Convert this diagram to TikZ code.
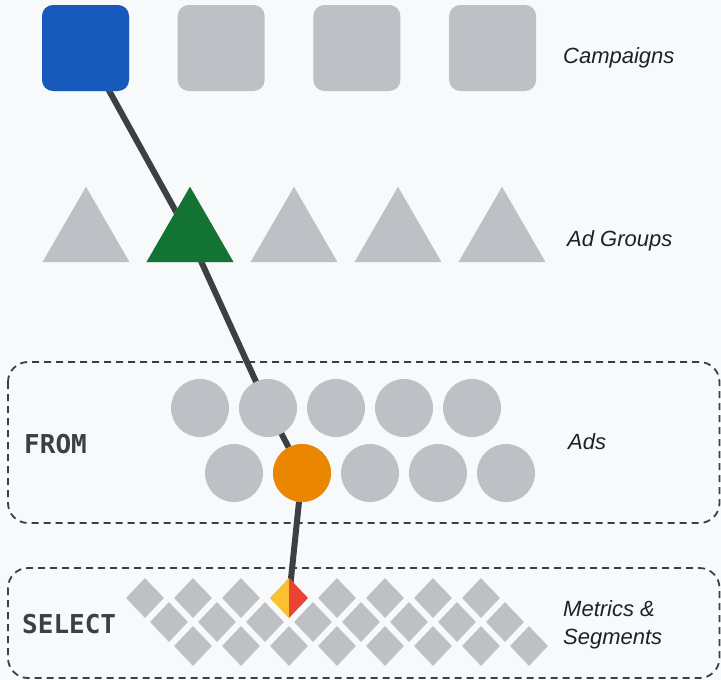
\documentclass[tikz,border=0pt]{standalone}
\usepackage{fontspec}
\usetikzlibrary{shapes.geometric,backgrounds}
\newfontfamily\labelfont{Liberation Sans}
\newfontfamily\codefont{DejaVu Sans Mono}

\definecolor{pagebg}{HTML}{F8F9FA}
\definecolor{idle}{HTML}{BDC1C6}
\definecolor{linkgray}{HTML}{3C4043}
\definecolor{labelink}{HTML}{202124}
\definecolor{gblue}{HTML}{185ABC}
\definecolor{ggreen}{HTML}{137333}
\definecolor{gorange}{HTML}{EA8600}
\definecolor{gyellow}{HTML}{FBC02D}
\definecolor{gred}{HTML}{EA4335}

\begin{document}
\begin{tikzpicture}[x=1pt, y=-1pt,
    campbox/.style={rectangle, rounded corners=11pt, minimum width=87pt, minimum height=86pt, inner sep=0pt, fill=idle},
    groupshape/.style={regular polygon, regular polygon sides=3, minimum size=100.5pt, inner sep=0pt, fill=idle},
    adshape/.style={circle, minimum size=58pt, inner sep=0pt, fill=idle},
    metricshape/.style={diamond, minimum width=38pt, minimum height=40pt, inner sep=0pt, fill=idle},
    splitdiamond/.style={metricshape, fill=none, path picture={
        \fill[gyellow] (path picture bounding box.south west) rectangle (path picture bounding box.north);
        \fill[gred] (path picture bounding box.south) rectangle (path picture bounding box.north east);}},
    levellabel/.style={anchor=base west, inner sep=0pt, text=labelink, font=\labelfont\itshape\fontsize{22}{28}\selectfont, align=left},
    sqllabel/.style={anchor=base west, inner sep=0pt, text=linkgray, font=\codefont\bfseries\fontsize{26}{30}\selectfont},
    framebox/.style={draw=linkgray, line width=1.8pt, dash pattern=on 7pt off 5pt, rounded corners=20pt},
    link/.style={draw=linkgray, line width=6pt, line join=round}]

  \useasboundingbox (0,0) rectangle (721,680);

  % query frames
  \draw[framebox] (8,362) rectangle (719.5,523);
  \draw[framebox] (8,568) rectangle (719.5,678);

  % campaigns
  \foreach \i in {1,...,4}
    \node[campbox] (camp\i) at ({85.5+135.7*(\i-1)},48) {};
  \node[campbox, fill=gblue] at (camp1) {};
  \node[levellabel] (camplabel) at (563,63) {Campaigns};

  % ad groups
  \foreach \i in {1,...,5}
    \node[groupshape] (group\i) at ({86+104*(\i-1)},237) {};
  \node[groupshape, fill=ggreen] at (group2) {};
  \node[levellabel] (grouplabel) at (567,246) {Ad Groups};

  % ads
  \foreach \i in {1,...,5} {
    \node[adshape] (adtop\i) at ({200+68*(\i-1)},408) {};
    \node[adshape] (adbot\i) at ({234+68*(\i-1)},473) {};
  }
  \node[adshape, fill=gorange] at (adbot2) {};
  \node[levellabel] (adlabel) at (568,449) {Ads};
  \node[sqllabel] (fromlabel) at (24,453) {FROM};

  % metrics and segments
  \foreach \r in {0,1,2}
    \foreach \c in {0,...,7}
      \node[metricshape] (m\r\c) at ({145+48*\c+24*\r},{598+24*\r}) {};
  \node[splitdiamond] at (m03) {};
  \node[levellabel] (metriclabel) at (563,644) {Metrics \&\\Segments};
  \node[sqllabel] (selectlabel) at (22,633) {SELECT};

  % page and path behind the shapes
  \begin{scope}[on background layer]
    \fill[pagebg] (0,0) rectangle (721,680);
    \draw[link] (camp1.center) -- (group2.center) -- (adtop2.center) -- (adbot2.center) -- (m03.center);
  \end{scope}
\end{tikzpicture}
\end{document}
